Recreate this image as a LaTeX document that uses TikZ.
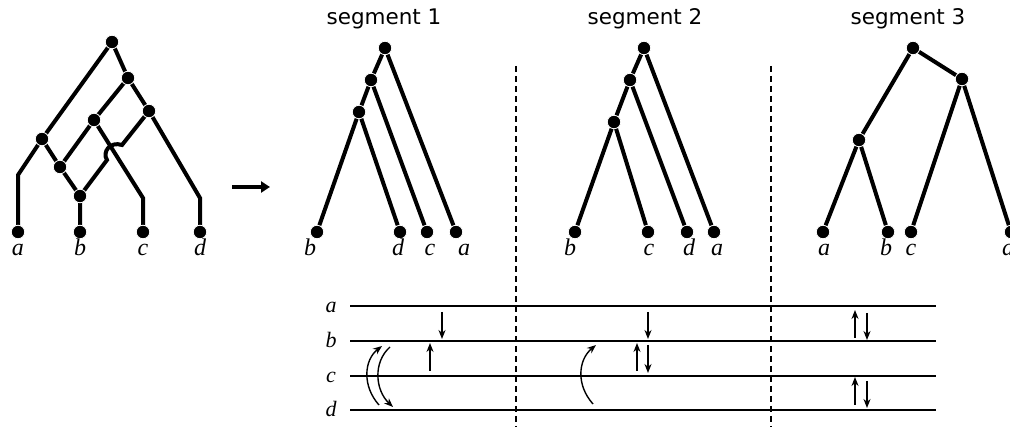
\documentclass[tikz,border=0pt]{standalone}
\usepackage{fontspec}
\setmainfont{Liberation Serif}
\newfontfamily\segfont{DejaVu Sans}
\usetikzlibrary{arrows.meta}
\begin{document}
\begin{tikzpicture}[x=1pt,y=-1pt,
  dot/.style={circle,fill=black,draw=white,line width=0.8pt,inner sep=0pt,minimum size=13.5pt},
  edge/.style={line width=4pt},
  lab/.style={font=\fontsize{24}{24}\selectfont\itshape,inner sep=0pt,anchor=base},
  rlab/.style={font=\fontsize{22}{22}\selectfont\itshape,inner sep=0pt,anchor=base},
  seg/.style={font=\segfont\fontsize{21.5}{21.5}\selectfont,inner sep=0pt,anchor=base},
  hline/.style={line width=1.8pt},
  vdash/.style={line width=1.4pt,dash pattern=on 6pt off 4pt},
  arr/.style={line width=1.4pt,-{Stealth[length=9pt,width=7pt]}},
  bigarr/.style={line width=3.5pt,-{Triangle[length=9pt,width=11pt]}}]
\useasboundingbox (0,0) rectangle (1010,427);
% ---------------- left network ----------------
\coordinate (Ca) at (18,175);
\coordinate (Cd) at (200,198);
\coordinate (Cc) at (143,198);
\coordinate (H1) at (122,145);
\coordinate (H2) at (107,160);
\draw[edge] (112,42) coordinate (Nr) -- (42,139) coordinate (N4);
\draw[edge] (Nr) -- (128,78) coordinate (N2) -- (149,111) coordinate (N3);
\draw[edge] (N2) -- (94,120) coordinate (N5);
\draw[edge] (N3) -- (Cd) -- (200,232) coordinate (Ld);
\draw[edge] (N4) -- (Ca) -- (18,232) coordinate (La);
\draw[edge] (N4) -- (60,167) coordinate (N6);
\draw[edge] (N5) -- (N6) -- (80,196) coordinate (N7) -- (80,232) coordinate (Lb);
\draw[edge] (N5) -- (Cc) -- (143,232) coordinate (Lc);
\draw[edge] (N3) -- (H1) .. controls (110,141) and (102,152) .. (H2) -- (N7);
\foreach \n in {Nr,N2,N3,N4,N5,N6,N7,La,Lb,Lc,Ld} \node[dot] (d\n) at (\n) {};
\node[lab] (ta) at (18,256) {a};
\node[lab] (tb) at (80,256) {b};
\node[lab] (tc) at (143,256) {c};
\node[lab] (td) at (200,256) {d};
% big arrow
\coordinate (A1) at (232,187);
\coordinate (A2) at (270,187);
\draw[bigarr] (A1) -- (A2);
% ---------------- segment 1 ----------------
\node[seg] (s1) at (384,25) {segment 1};
\node[dot] (a1r) at (385,48) {};
\node[dot] (a1n2) at (371,80) {};
\node[dot] (a1n3) at (359,112) {};
\node[dot] (a1b) at (317,232) {};
\node[dot] (a1d) at (400,232) {};
\node[dot] (a1c) at (427,232) {};
\node[dot] (a1a) at (456,232) {};
\draw[edge] (a1r) -- (a1n2) -- (a1n3) -- (a1b);
\draw[edge] (a1r) -- (a1a);
\draw[edge] (a1n2) -- (a1c);
\draw[edge] (a1n3) -- (a1d);
\node[lab] (t1b) at (310,256) {b};
\node[lab] (t1d) at (398,256) {d};
\node[lab] (t1c) at (430,256) {c};
\node[lab] (t1a) at (464,256) {a};
% ---------------- segment 2 ----------------
\node[seg] (s2) at (645,25) {segment 2};
\node[dot] (a2r) at (644,48) {};
\node[dot] (a2n2) at (630,80) {};
\node[dot] (a2n3) at (614,122) {};
\node[dot] (a2b) at (575,232) {};
\node[dot] (a2c) at (648,232) {};
\node[dot] (a2d) at (687,232) {};
\node[dot] (a2a) at (714,232) {};
\draw[edge] (a2r) -- (a2n2) -- (a2n3) -- (a2b);
\draw[edge] (a2r) -- (a2a);
\draw[edge] (a2n2) -- (a2d);
\draw[edge] (a2n3) -- (a2c);
\node[lab] (t2b) at (570,256) {b};
\node[lab] (t2c) at (649,256) {c};
\node[lab] (t2d) at (689,256) {d};
\node[lab] (t2a) at (717,256) {a};
% ---------------- segment 3 ----------------
\node[seg] (s3) at (908,25) {segment 3};
\node[dot] (a3r) at (913,48) {};
\node[dot] (a3n2) at (962,79) {};
\node[dot] (a3n3) at (859,140) {};
\node[dot] (a3a) at (823,232) {};
\node[dot] (a3b) at (888,232) {};
\node[dot] (a3c) at (911,232) {};
\node[dot] (a3d) at (1011,232) {};
\draw[edge] (a3r) -- (a3n2);
\draw[edge] (a3r) -- (a3n3);
\draw[edge] (a3n3) -- (a3a);
\draw[edge] (a3n3) -- (a3b);
\draw[edge] (a3n2) -- (a3c);
\draw[edge] (a3n2) -- (a3d);
\node[lab] (t3a) at (824,256) {a};
\node[lab] (t3b) at (886,256) {b};
\node[lab] (t3c) at (911,256) {c};
\node[lab] (t3d) at (1008,256) {d};
% ---------------- dashed separators ----------------
\coordinate (V1t) at (516,66); \coordinate (V1b) at (516,427);
\coordinate (V2t) at (771,66); \coordinate (V2b) at (771,427);
\draw[vdash] (V1t) -- (V1b);
\draw[vdash] (V2t) -- (V2b);
% ---------------- bottom lines ----------------
\foreach \nm/\y in {a/306,b/341,c/376,d/410}{
  \node[rlab] (r\nm) at (331,\y+7) {\nm};
  \coordinate (\nm L) at (350,\y);
  \coordinate (\nm R) at (936,\y);
  \draw[hline] (\nm L) -- (\nm R);
}
% segment 1 arrows
\coordinate (p1) at (442,312); \coordinate (p2) at (442,339);
\coordinate (p3) at (430,371); \coordinate (p4) at (430,343);
\draw[arr] (p1) -- (p2);
\draw[arr] (p3) -- (p4);
\coordinate (q1) at (379,405); \coordinate (q2) at (382,346);
\coordinate (q3) at (390,347); \coordinate (q4) at (393,407);
\draw[arr] (q1) .. controls (362,386) and (364,360) .. (q2);
\draw[arr] (q3) .. controls (373,362) and (375,390) .. (q4);
% segment 2 arrows
\coordinate (p5) at (648,312); \coordinate (p6) at (648,339);
\coordinate (p7) at (637,371); \coordinate (p8) at (637,343);
\coordinate (p9) at (648,345); \coordinate (p10) at (648,373);
\draw[arr] (p5) -- (p6);
\draw[arr] (p7) -- (p8);
\draw[arr] (p9) -- (p10);
\coordinate (q5) at (593,404); \coordinate (q6) at (596,345);
\draw[arr] (q5) .. controls (576,385) and (578,360) .. (q6);
% segment 3 arrows
\coordinate (u1) at (855,338); \coordinate (u2) at (855,310);
\coordinate (u3) at (867,313); \coordinate (u4) at (867,340);
\coordinate (u5) at (855,405); \coordinate (u6) at (855,377);
\coordinate (u7) at (867,381); \coordinate (u8) at (867,408);
\draw[arr] (u1) -- (u2);
\draw[arr] (u3) -- (u4);
\draw[arr] (u5) -- (u6);
\draw[arr] (u7) -- (u8);
\end{tikzpicture}
\end{document}
